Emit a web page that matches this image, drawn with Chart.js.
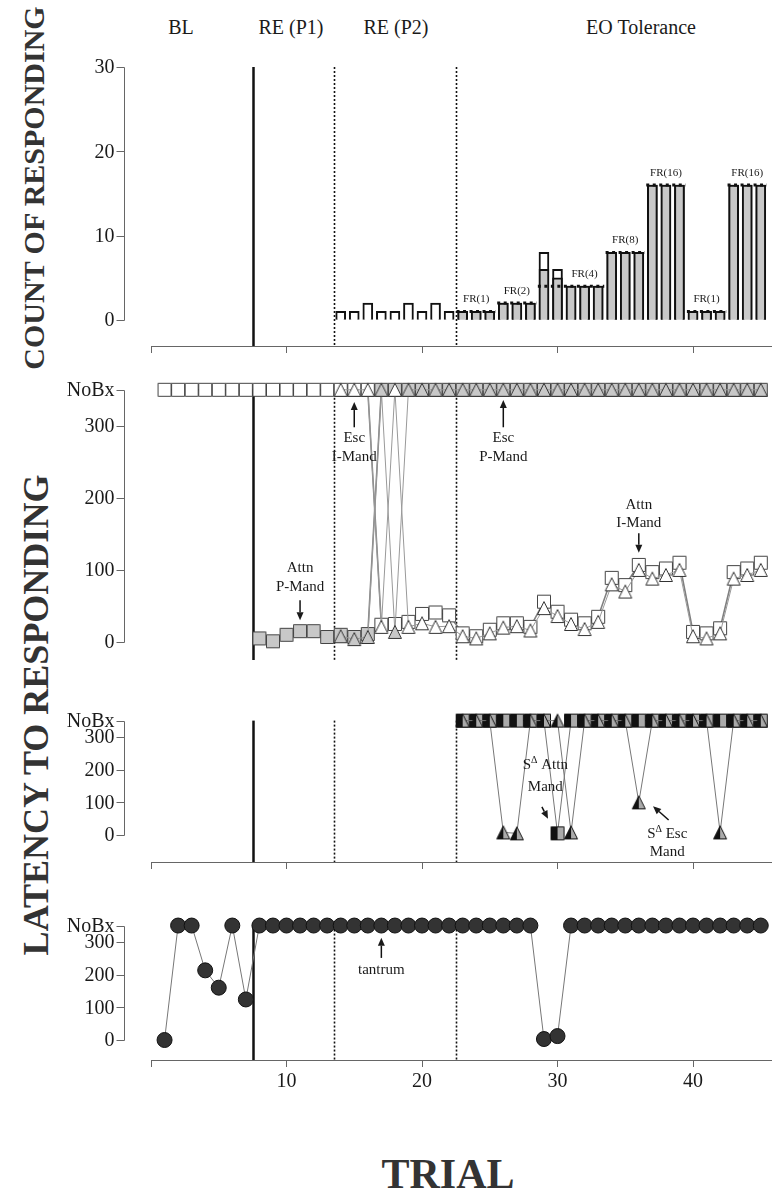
<!DOCTYPE html>
<html>
<head>
<meta charset="utf-8">
<script src="https://cdn.jsdelivr.net/npm/chart.js@4.4.0/dist/chart.umd.min.js"></script>
<style>
  body { margin: 0; background: #fff; width: 772px; height: 1200px; position: relative; overflow: hidden;
         font-family: "Liberation Serif", "Times New Roman", serif; color: #1a1a1a; }
  .panel { position: absolute; left: 0; }
  .phase { position: absolute; top: 16px; font-size: 20px; transform: translateX(-50%); white-space: nowrap; }
  .ytitle { position: absolute; font-weight: bold; color: #333; white-space: nowrap;
            transform: translate(-50%, -50%) rotate(-90deg); }
  #xtitle { position: absolute; left: 448px; top: 1150px; transform: translateX(-50%);
            font-weight: bold; font-size: 42px; color: #333; }
</style>
</head>
<body>
<div class="phase" style="left:181px">BL</div>
<div class="phase" style="left:291px">RE (P1)</div>
<div class="phase" style="left:396px">RE (P2)</div>
<div class="phase" style="left:641px">EO Tolerance</div>
<div class="ytitle" style="left:34px; top:188px; font-size:30px">COUNT OF RESPONDING</div>
<div class="ytitle" style="left:36px; top:715px; font-size:36px">LATENCY TO RESPONDING</div>
<div id="xtitle">TRIAL</div>

<canvas class="panel" id="c1" width="772" height="326" style="top:40px"></canvas>
<canvas class="panel" id="c2" width="772" height="294" style="top:366px"></canvas>
<canvas class="panel" id="c3" width="772" height="176" style="top:700px"></canvas>
<canvas class="panel" id="c4" width="772" height="192" style="top:900px"></canvas>

<script>
Chart.defaults.font.family = '"Liberation Serif", "Times New Roman", serif';
Chart.defaults.color = "#1a1a1a";

const B = 350; // "NoBx" plotted level
const trials = [1,2,3,4,5,6,7,8,9,10,11,12,13,14,15,16,17,18,19,20,21,22,23,24,25,26,27,28,29,30,
                31,32,33,34,35,36,37,38,39,40,41,42,43,44,45];
const phaseBounds = [7.5, 13.5, 22.5];
const xTicks = [0, 10, 20, 30, 40];

// panel 1: count of responding
const totalCount = [null,null,null,null,null,null,null,null,null,null,null,null,null,
  1,1,2,1,1,2,1,2,1, 1,1,1, 2,2,2, 8,6, 4,4,4, 8,8,8, 16,16,16, 1,1,1, 16,16,16];
const reinforcedCount = [null,null,null,null,null,null,null,null,null,null,null,null,null,
  null,null,null,null,null,null,null,null,null, 1,1,1, 2,2,2, 6,5, 4,4,4, 8,8,8, 16,16,16, 1,1,1, 16,16,16];
const frLevel = [1, 2, 4, 8, 16, 1, 16];
const frFirst = [23, 26, 29, 34, 37, 40, 43];
const frLast  = [25, 28, 33, 36, 39, 42, 45];

// panel 2: latency, mands
const attnI = [B,B,B,B,B,B,B,B,B,B,B,B,B,B,B,B, 24,25,28,39,41,37, 12,8,17, 26,26,21,
  56,42,31,26,35, 89,79,107,97,102,110, 14,12,19, 97,102,110];
const attnP = [null,null,null,null,null,null,null, 5,1,10,15,15,7, 10,7,11,
  B,B,B,B,B,B, B,B,B,B,B,B,B,B,B,B,B,B,B,B,B,B,B,B,B,B,B,B,B];
const escI = [null,null,null,null,null,null,null,null,null,null,null,null,null, B,B,B,
  21,B,21,26,21,22, 8,5,12, 20,22,16, 47,36,25,18,28, 80,70,100,88,93,100, 8,5,12, 88,93,100];
const escP = [null,null,null,null,null,null,null,null,null,null,null,null,null, 8,4,7,
  B,14,B,B,B,B, B,B,B,B,B,B,B,B,B,B,B,B,B,B,B,B,B,B,B,B,B,B,B];

// panel 3: latency, S-delta mands
const sdAttn = [null,null,null,null,null,null,null,null,null,null,null,null,null,null,null,null,null,null,null,null,null,null,
  B,B,B,B,B,B,B,5,B, B,B,B,B,B,B,B,B,B,B,B,B,B,B];
const sdEsc = [null,null,null,null,null,null,null,null,null,null,null,null,null,null,null,null,null,null,null,null,null,null,
  B,B,B,8,5,B,B,B,8, B,B,B,B,100,B,B,B,B,B,8,B,B,B];

// panel 4: latency, problem behavior
const tantrum = [0,B,B,213,160,B,124, B,B,B,B,B,B,B,B,B,B,B,B,B,B,B,B,B,B,B,B,B, 3,12,
  B,B,B,B,B,B,B,B,B,B,B,B,B,B,B];

const pts = (arr) => trials.map((t, i) => ({ x: t, y: arr[i] }));

function marker(shape, size, left, right, stroke) {
  const c = document.createElement("canvas");
  c.width = size + 2; c.height = size + 2;
  const g = c.getContext("2d");
  const path = () => {
    g.beginPath();
    if (shape === "square") g.rect(1.5, 1.5, size - 1, size - 1);
    else { g.moveTo(1 + size / 2, 1.5); g.lineTo(size + 0.5, size + 0.5); g.lineTo(1.5, size + 0.5); g.closePath(); }
  };
  g.save(); path(); g.clip();
  g.fillStyle = left; g.fillRect(0, 0, c.width / 2, c.height);
  g.fillStyle = right; g.fillRect(c.width / 2, 0, c.width / 2, c.height);
  g.restore();
  path(); g.strokeStyle = stroke; g.lineWidth = 1; g.stroke();
  return c;
}
const GRAY = "#c8c8c8";
const sqWhite = marker("square", 14, "#fff", "#fff", "#444");
const sqGray = marker("square", 14, GRAY, GRAY, "#444");
const trWhite = marker("tri", 14, "#fff", "#fff", "#333");
const trGray = marker("tri", 14, GRAY, GRAY, "#333");
const sqSplit = marker("square", 14, "#111", "#aaa", "#111");
const trSplit = marker("tri", 14, "#111", "#aaa", "#111");

function arrow(ctx, x1, y1, x2, y2) {
  const a = Math.atan2(y2 - y1, x2 - x1), L = 8, W = 3.5;
  ctx.beginPath(); ctx.moveTo(x1, y1);
  ctx.lineTo(x2 - Math.cos(a) * L, y2 - Math.sin(a) * L); ctx.stroke();
  ctx.beginPath(); ctx.moveTo(x2, y2);
  ctx.lineTo(x2 - Math.cos(a) * L - Math.sin(a) * W, y2 - Math.sin(a) * L + Math.cos(a) * W);
  ctx.lineTo(x2 - Math.cos(a) * L + Math.sin(a) * W, y2 - Math.sin(a) * L - Math.cos(a) * W);
  ctx.closePath(); ctx.fill();
}

function richText(ctx, s, cx, cy) {
  // "Δ" is drawn as a superscript after S
  const parts = s.split(/(Δ)/).filter(p => p);
  const f = (p) => (p === "Δ" ? '10px "Liberation Serif"' : '15px "Liberation Serif"');
  let w = 0;
  parts.forEach(p => { ctx.font = f(p); w += ctx.measureText(p).width; });
  let px = cx - w / 2;
  ctx.textAlign = "left";
  parts.forEach(p => {
    ctx.font = f(p);
    ctx.fillText(p, px, p === "Δ" ? cy - 5 : cy);
    px += ctx.measureText(p).width;
  });
}

const decor = {
  id: "decor",
  beforeDatasetsDraw(chart, _a, o) {
    const { ctx, chartArea: a, scales: { x, y } } = chart;
    const top = y.getPixelForValue(o.phaseTop);
    ctx.save();
    ctx.strokeStyle = "#111";
    phaseBounds.forEach((b, i) => {
      const px = Math.round(x.getPixelForValue(b)) + 0.5;
      ctx.lineWidth = i === 0 ? 2.5 : 1.6;
      ctx.setLineDash(i === 0 ? [] : [2, 2]);
      ctx.beginPath(); ctx.moveTo(px, top); ctx.lineTo(px, a.bottom); ctx.stroke();
    });
    ctx.restore();
  },
  afterDraw(chart, _a, o) {
    const { ctx, chartArea: a, scales: { x, y } } = chart;
    ctx.save();
    // offset y axis: line, tick marks and labels
    const ax = a.left - 27 + 0.5;
    ctx.strokeStyle = "#666"; ctx.lineWidth = 1;
    ctx.beginPath();
    ctx.moveTo(ax, Math.round(y.getPixelForValue(0)) + 0.5);
    ctx.lineTo(ax, Math.round(y.getPixelForValue(o.yTicks[o.yTicks.length - 1])) + 0.5);
    o.yTicks.forEach(v => {
      const py = Math.round(y.getPixelForValue(v)) + 0.5;
      ctx.moveTo(ax - 8, py); ctx.lineTo(ax, py);
    });
    ctx.stroke();
    ctx.fillStyle = "#1a1a1a";
    ctx.font = '20px "Liberation Serif"'; ctx.textAlign = "right"; ctx.textBaseline = "middle";
    o.yTicks.forEach(v => ctx.fillText(v === B ? "NoBx" : String(v), ax - 10, y.getPixelForValue(v) + 1));

    ctx.strokeStyle = "#111"; ctx.lineWidth = 1.5;
    if (o.fr) {
      ctx.font = '11px "Liberation Serif"'; ctx.textAlign = "center";
      frLevel.forEach((v, i) => {
        ctx.fillText("FR(" + v + ")", x.getPixelForValue(frLast[i] - 1), y.getPixelForValue(v) - 12);
      });
    }
    (o.notes || []).forEach(nt => {
      nt.text.forEach(([v, s]) => richText(ctx, s, x.getPixelForValue(nt.x), y.getPixelForValue(v)));
      const r = nt.arrow;
      arrow(ctx, x.getPixelForValue(r[0]), y.getPixelForValue(r[1]), x.getPixelForValue(r[2]), y.getPixelForValue(r[3]));
    });
    ctx.restore();
  }
};

function xScale(show, h, labels) {
  return {
    type: "linear", min: 0, max: 45.83, display: show, offset: false,
    afterBuildTicks: (s) => { s.ticks = xTicks.map(v => ({ value: v })); },
    afterFit: (s) => { s.height = h; },
    border: { display: true, color: "#666", width: 1 },
    grid: { display: true, offset: false, drawOnChartArea: false, drawTicks: true, tickLength: 7, color: "#666" },
    ticks: { display: labels, padding: 3, font: { size: 20 }, color: "#1a1a1a", maxRotation: 0,
             callback: (v) => (v === 0 ? "" : v) }
  };
}
function yScale(min, max) {
  return { type: "linear", min, max, display: false };
}
const base = (top) => ({
  responsive: false, animation: false, devicePixelRatio: 1,
  layout: { autoPadding: false, padding: { top, left: 151, right: 0, bottom: 0 } },
  plugins: { legend: { display: false }, tooltip: { enabled: false } }
});
function series(data, style, lineColor, lineWidth) {
  return { type: "line", data: pts(data), pointStyle: style, pointRadius: 7, pointHoverRadius: 7,
           borderColor: lineColor, borderWidth: lineWidth, backgroundColor: "transparent", clip: false };
}

// panel 1
const frPts = [];
frLevel.forEach((v, i) => {
  frPts.push({ x: frFirst[i] - 0.45, y: v }, { x: frLast[i] + 0.45, y: v }, { x: frLast[i] + 0.5, y: null });
});
const o1 = base(27);
o1.scales = { x: xScale(true, 20, false), y: yScale(-3.1, 30) };
o1.plugins.decor = { phaseTop: 30, yTicks: [0, 10, 20, 30], fr: true };
new Chart(document.getElementById("c1"), {
  type: "bar",
  data: { datasets: [
    { type: "line", data: frPts, borderColor: "#111", borderWidth: 3, borderDash: [3, 3.5],
      pointRadius: 0, spanGaps: false, order: 0 },
    { data: pts(reinforcedCount), backgroundColor: GRAY, borderColor: "#111", borderWidth: 2,
      borderSkipped: "start", barThickness: 10, grouped: false, order: 1 },
    { data: pts(totalCount), backgroundColor: "#fff", borderColor: "#111", borderWidth: 2,
      borderSkipped: "start", barThickness: 10, grouped: false, order: 2 }
  ] },
  options: o1,
  plugins: [decor]
});

// panel 2
const o2 = base(13);
o2.scales = { x: xScale(false, 0, false), y: yScale(-25, 365) };
o2.plugins.decor = { phaseTop: B, yTicks: [0, 100, 200, 300, B], notes: [
  { x: 15, text: [[283, "Esc"], [257, "I-Mand"]], arrow: [15, 298, 15, 333] },
  { x: 26, text: [[283, "Esc"], [257, "P-Mand"]], arrow: [26, 298, 26, 336] },
  { x: 11, text: [[103, "Attn"], [76, "P-Mand"]], arrow: [11, 58, 11, 30] },
  { x: 36, text: [[190, "Attn"], [165, "I-Mand"]], arrow: [36, 151, 36, 124] }
] };
new Chart(document.getElementById("c2"), {
  type: "line",
  data: { datasets: [
    Object.assign(series(escP, trGray, "#999", 1), { order: 0 }),
    Object.assign(series(escI, trWhite, "#999", 1), { order: 1 }),
    Object.assign(series(attnI, sqWhite, "#808080", 1.6), { order: 2 }),
    Object.assign(series(attnP, sqGray, "#808080", 1.6), { order: 3 })
  ] },
  options: o2,
  plugins: [decor]
});

// panel 3
const o3 = base(14);
o3.scales = { x: xScale(true, 14, false), y: yScale(-82.6, 370.2) };
o3.plugins.decor = { phaseTop: B, yTicks: [0, 100, 200, 300, B], notes: [
  { x: 29.1, text: [[214, "SΔ Attn"], [147, "Mand"]], arrow: [28.85, 86, 29.3, 50] },
  { x: 38.1, text: [[3, "SΔ Esc"], [-52, "Mand"]], arrow: [38.2, 46, 37.05, 88] }
] };
new Chart(document.getElementById("c3"), {
  type: "line",
  data: { datasets: [
    Object.assign(series(sdEsc, trSplit, "#777", 1), { order: 0 }),
    Object.assign(series(sdAttn, sqSplit, "#777", 1), { order: 1 })
  ] },
  options: o3,
  plugins: [decor]
});

// panel 4
const o4 = base(17);
o4.scales = { x: xScale(true, 32, true), y: yScale(-61.1, 376.1) };
o4.plugins.decor = { phaseTop: B, yTicks: [0, 100, 200, 300, B], notes: [
  { x: 17, text: [[214, "tantrum"]], arrow: [17, 251, 17, 313] }
] };
new Chart(document.getElementById("c4"), {
  type: "line",
  data: { datasets: [
    { data: pts(tantrum), pointStyle: "circle", pointRadius: 7.5, pointHoverRadius: 7.5,
      pointBackgroundColor: "#333", pointBorderColor: "#111", pointBorderWidth: 1,
      borderColor: "#777", borderWidth: 1, clip: false }
  ] },
  options: o4,
  plugins: [decor]
});
</script>
</body>
</html>
